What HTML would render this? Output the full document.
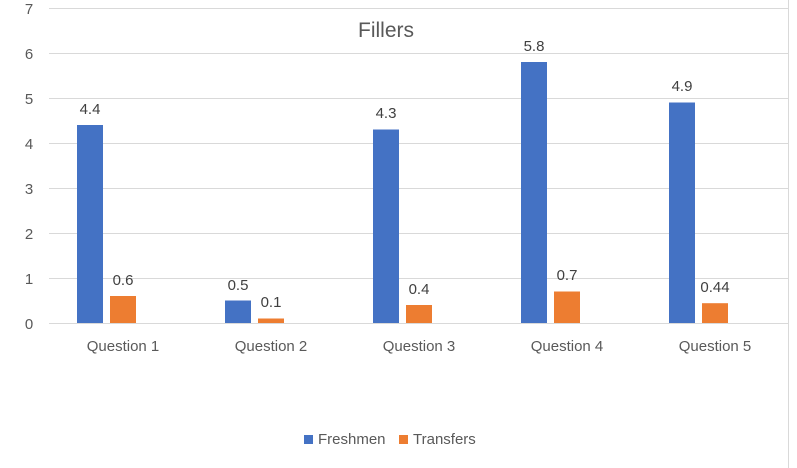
<!DOCTYPE html><html><head><style>body{margin:0;background:#fff}svg{display:block;font-family:"Liberation Sans",sans-serif}</style></head><body>
<svg width="797" height="468" viewBox="0 0 797 468">
<rect width="797" height="468" fill="#fff"/>
<line x1="788.5" y1="0" x2="788.5" y2="468" stroke="#d9d9d9"/>
<g stroke="#d9d9d9" stroke-width="1">
<line x1="49" y1="8.5" x2="788" y2="8.5"/><line x1="49" y1="53.5" x2="788" y2="53.5"/><line x1="49" y1="98.5" x2="788" y2="98.5"/><line x1="49" y1="143.5" x2="788" y2="143.5"/><line x1="49" y1="188.5" x2="788" y2="188.5"/><line x1="49" y1="233.5" x2="788" y2="233.5"/><line x1="49" y1="278.5" x2="788" y2="278.5"/><line x1="49" y1="323.5" x2="788" y2="323.5"/>
</g>
<g fill="#595959" font-size="15" text-anchor="middle">
<text x="29" y="14">7</text><text x="29" y="59">6</text><text x="29" y="104">5</text><text x="29" y="149">4</text><text x="29" y="194">3</text><text x="29" y="239">2</text><text x="29" y="284">1</text><text x="29" y="329">0</text>
</g>
<text x="386" y="37" font-size="21" fill="#595959" text-anchor="middle">Fillers</text>
<g fill="#4472c4">
<rect x="77" y="125" width="26" height="198"/><rect x="225" y="300.5" width="26" height="22.5"/><rect x="373" y="129.5" width="26" height="193.5"/><rect x="521" y="62" width="26" height="261"/><rect x="669" y="102.5" width="26" height="220.5"/>
</g>
<g fill="#ed7d31">
<rect x="110" y="296" width="26" height="27"/><rect x="258" y="318.5" width="26" height="4.5"/><rect x="406" y="305" width="26" height="18"/><rect x="554" y="291.5" width="26" height="31.5"/><rect x="702" y="303.2" width="26" height="19.8"/>
</g>
<g fill="#404040" font-size="15" text-anchor="middle">
<text x="90" y="114">4.4</text><text x="123" y="285">0.6</text>
<text x="238" y="290">0.5</text><text x="271" y="307">0.1</text>
<text x="386" y="118">4.3</text><text x="419" y="294">0.4</text>
<text x="534" y="51">5.8</text><text x="567" y="280">0.7</text>
<text x="682" y="91">4.9</text><text x="715" y="292">0.44</text>
</g>
<g fill="#595959" font-size="15" text-anchor="middle">
<text x="123" y="351">Question 1</text><text x="271" y="351">Question 2</text><text x="419" y="351">Question 3</text><text x="567" y="351">Question 4</text><text x="715" y="351">Question 5</text>
</g>
<rect x="304" y="435" width="9" height="9" fill="#4472c4"/>
<text x="318" y="444" font-size="15" fill="#595959">Freshmen</text>
<rect x="399" y="435" width="9" height="9" fill="#ed7d31"/>
<text x="413" y="444" font-size="15" fill="#595959">Transfers</text>
</svg></body></html>
